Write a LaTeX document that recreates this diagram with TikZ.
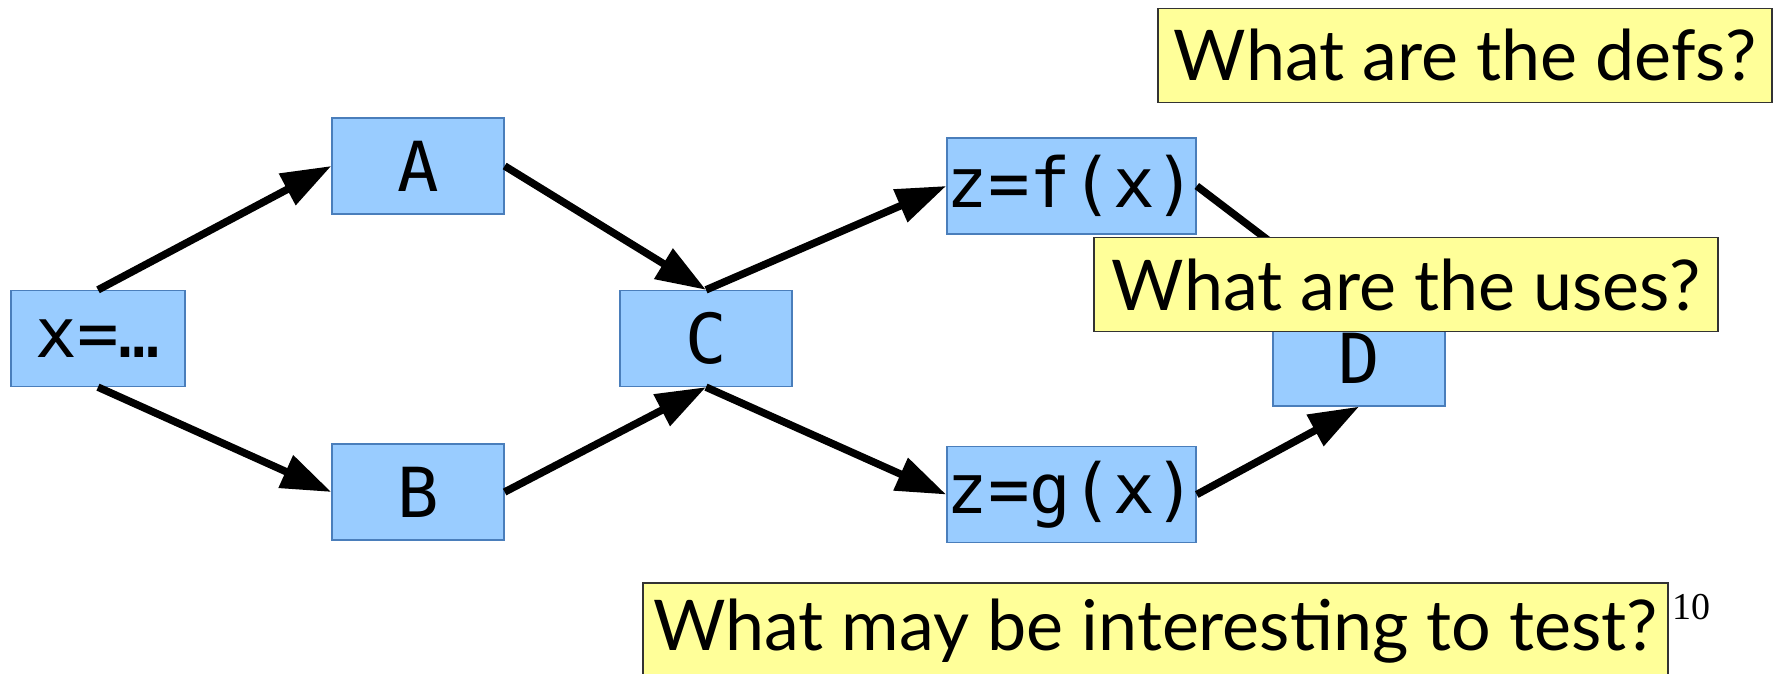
\documentclass[tikz,border=0pt]{standalone}
\usepackage{fontspec}
\setmainfont{Lato}
\newfontfamily\monofam{DejaVu Sans Mono}
\newfontfamily\numfam{Liberation Serif}
\usetikzlibrary{arrows.meta}
\definecolor{boxblue}{HTML}{99CCFF}
\definecolor{boxblueline}{HTML}{4A7EBB}
\definecolor{noteyellow}{HTML}{FFFF99}
\definecolor{noteline}{HTML}{333333}
\tikzset{
  bluebox/.style={draw=boxblueline, line width=1.3pt, fill=boxblue, inner sep=0pt,
    minimum height=96pt, font=\monofam\fontsize{69}{69}\selectfont},
  notebox/.style={draw=noteline, line width=1.3pt, fill=noteyellow, inner sep=0pt,
    minimum height=94pt, font=\fontsize{70}{70}\selectfont},
  arr/.style={line width=7.5pt, -{Triangle[length=50pt, width=34pt]}},
}
\begin{document}
\begin{tikzpicture}[x=1pt,y=-1pt]
\useasboundingbox (0,0) rectangle (1776,674);
\fill[white] (0,0) rectangle (1776,674);
\node[bluebox, minimum width=174pt] (xn) at (98,338.5) {x=…};
\node[bluebox, minimum width=172pt] (A) at (418,166) {A};
\node[bluebox, minimum width=172pt] (B) at (418,492) {B};
\node[bluebox, minimum width=172pt] (C) at (706,338.5) {C};
\node[bluebox, minimum width=249pt] (F) at (1071.5,186) {z=f(x)};
\node[bluebox, minimum width=249pt] (G) at (1071.5,494.5) {z=g(x)};
\node[bluebox, minimum width=172pt] (D) at (1359,358) {D};
\draw[arr] (xn.north) -- (A.west);
\draw[arr] (xn.south) -- (B.west);
\draw[arr] (A.east) -- (C.north);
\draw[arr] (B.east) -- (C.south);
\draw[arr] (C.north) -- (F.west);
\draw[arr] (C.south) -- (G.west);
\draw[arr] (F.east) -- (D.north);
\draw[arr] (G.east) -- (D.south);
\node[notebox, minimum width=614pt] (defs) at (1465,55.5) {What are the defs?};
\node[notebox, minimum width=624pt] (uses) at (1406,284.5) {What are the uses?};
\node[notebox, minimum width=1025pt, minimum height=96pt] (test) at (1155.5,631) {What may be interesting to test?};
\node[font=\numfam\fontsize{38}{38}\selectfont, inner sep=0pt] (pnum) at (1691,607) {10};
\end{tikzpicture}
\end{document}
